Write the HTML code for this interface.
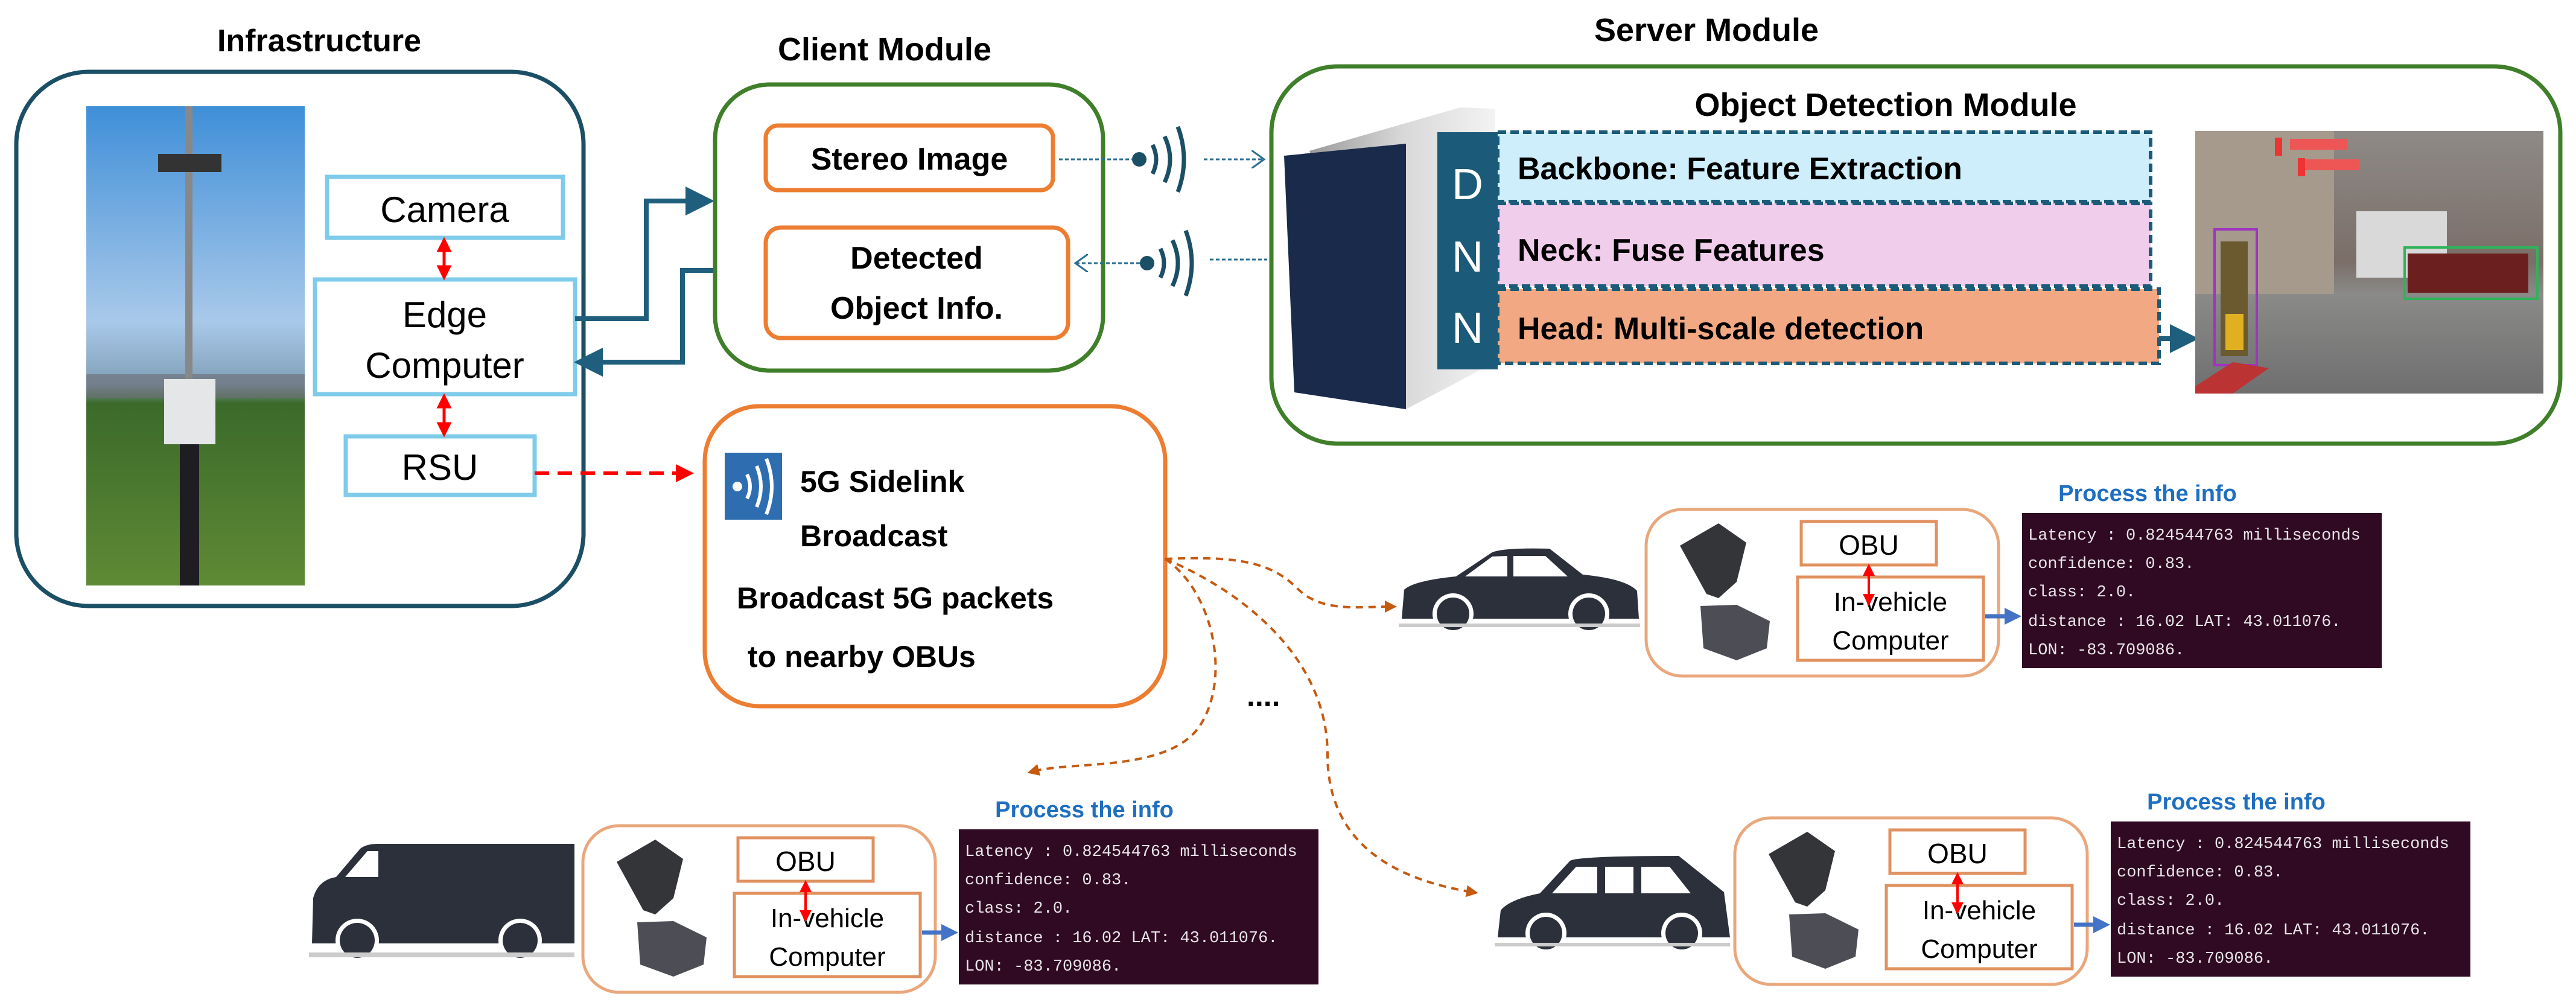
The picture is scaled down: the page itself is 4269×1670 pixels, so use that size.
<!DOCTYPE html>
<html><head><meta charset="utf-8"><style>
html,body{margin:0;padding:0;background:#fff;}
svg{display:block;}
text{font-family:"Liberation Sans",sans-serif;}
.b{font-weight:bold;}
.mono{font-family:"Liberation Mono",monospace;fill:#e8e4e8;font-size:27px;}
</style></head><body>
<svg width="4269" height="1670" viewBox="0 0 4269 1670" xmlns="http://www.w3.org/2000/svg">
<defs>
<marker id="teal" markerWidth="6" markerHeight="6" refX="3" refY="3" orient="auto" markerUnits="strokeWidth"><path d="M0,0 L6,3 L0,6 Z" fill="#1f5f7d"/></marker>
<marker id="red" markerWidth="5" markerHeight="5" refX="2.5" refY="2.5" orient="auto" markerUnits="strokeWidth"><path d="M0,0 L5,2.5 L0,5 Z" fill="#f00"/></marker>
<marker id="redb" markerWidth="5" markerHeight="5" refX="2.5" refY="2.5" orient="auto-start-reverse" markerUnits="strokeWidth"><path d="M0,0 L5,2.5 L0,5 Z" fill="#f00"/></marker>
<marker id="open" markerWidth="8" markerHeight="10" refX="7" refY="5" orient="auto" markerUnits="strokeWidth"><path d="M0,0 L7,5 L0,10" fill="none" stroke="#2a6e90" stroke-width="1"/></marker>
<marker id="org" markerWidth="5" markerHeight="5" refX="2.5" refY="2.5" orient="auto" markerUnits="strokeWidth"><path d="M0,0 L5,2.5 L0,5 Z" fill="#c55a11"/></marker>
<marker id="blu" markerWidth="4" markerHeight="4" refX="2" refY="2" orient="auto" markerUnits="strokeWidth"><path d="M0,0 L4,2 L0,4 Z" fill="#4472c4"/></marker>
<linearGradient id="sky" x1="0" y1="0" x2="0" y2="1"><stop offset="0" stop-color="#3f8fd8"/><stop offset="0.45" stop-color="#a9c9ea"/><stop offset="0.58" stop-color="#7f9fb8"/><stop offset="0.62" stop-color="#3b6a2a"/><stop offset="1" stop-color="#5f8a35"/></linearGradient>
<linearGradient id="silver" x1="0" y1="0" x2="1" y2="0"><stop offset="0" stop-color="#9a9a9a"/><stop offset="0.5" stop-color="#d8d8d8"/><stop offset="1" stop-color="#f3f3f3"/></linearGradient>
<linearGradient id="street" x1="0" y1="0" x2="0" y2="1"><stop offset="0" stop-color="#8e8a86"/><stop offset="0.5" stop-color="#7b6e68"/><stop offset="0.62" stop-color="#8a8a88"/><stop offset="1" stop-color="#6f6f70"/></linearGradient>
<g id="grp">
  <rect x="0" y="0" width="584" height="276" rx="60" fill="#fff" stroke="#e9a77c" stroke-width="5"/>
  <polygon points="56,60 120,23 166,55 150,120 120,147 100,140" fill="#333539"/>
  <polygon points="90,160 150,158 205,185 200,230 150,250 95,230" fill="#4d4d55"/>
  <rect x="257" y="20" width="224" height="72" fill="#fff" stroke="#e0915f" stroke-width="5"/>
  <text x="369" y="75" font-size="46" text-anchor="middle">OBU</text>
  <rect x="251" y="112" width="308" height="138" fill="#fff" stroke="#e0915f" stroke-width="5"/>
  <text x="405" y="168" font-size="44" text-anchor="middle">In-vehicle</text>
  <text x="405" y="232" font-size="44" text-anchor="middle">Computer</text>
  <line x1="369" y1="100" x2="369" y2="150" stroke="#f00" stroke-width="4" marker-start="url(#redb)" marker-end="url(#redb)"/>
  <line x1="562" y1="177" x2="608" y2="177" stroke="#4472c4" stroke-width="7" marker-end="url(#blu)"/>
  <text x="831" y="-14" font-size="38" class="b" fill="#1f6fc0" text-anchor="middle">Process the info</text>
  <rect x="623" y="6" width="596" height="257" fill="#2f0a22"/>
  <text class="mono" x="633" y="50">Latency : 0.824544763 milliseconds</text>
  <text class="mono" x="633" y="97">confidence: 0.83.</text>
  <text class="mono" x="633" y="144">class: 2.0.</text>
  <text class="mono" x="633" y="193">distance : 16.02 LAT: 43.011076.</text>
  <text class="mono" x="633" y="240">LON: -83.709086.</text>
</g>
</defs>

<!-- Infrastructure -->
<text x="529" y="85" font-size="52" class="b" text-anchor="middle">Infrastructure</text>
<rect x="27" y="119" width="940" height="885" rx="120" fill="#fff" stroke="#1b4f66" stroke-width="7"/>
<rect x="143" y="176" width="362" height="794" fill="url(#sky)"/>
<rect x="143" y="620" width="362" height="40" fill="#6d6a70" opacity="0.6"/>
<rect x="307" y="176" width="12" height="520" fill="#888"/>
<rect x="298" y="690" width="32" height="280" fill="#1e1e22"/>
<rect x="262" y="255" width="105" height="30" fill="#333"/>
<rect x="272" y="628" width="85" height="108" fill="#e4e6e8"/>
<rect x="542" y="293" width="391" height="101" fill="#fff" stroke="#7ecbea" stroke-width="7"/>
<text x="737" y="368" font-size="60" text-anchor="middle">Camera</text>
<rect x="522" y="463" width="431" height="190" fill="#fff" stroke="#7ecbea" stroke-width="7"/>
<text x="737" y="542" font-size="60" text-anchor="middle">Edge</text>
<text x="737" y="626" font-size="60" text-anchor="middle">Computer</text>
<rect x="573" y="723" width="313" height="97" fill="#fff" stroke="#7ecbea" stroke-width="7"/>
<text x="729" y="795" font-size="60" text-anchor="middle">RSU</text>
<line x1="736" y1="405" x2="736" y2="452" stroke="#f00" stroke-width="5" marker-start="url(#redb)" marker-end="url(#redb)"/>
<line x1="736" y1="664" x2="736" y2="712" stroke="#f00" stroke-width="5" marker-start="url(#redb)" marker-end="url(#redb)"/>

<!-- teal connectors -->
<path d="M953 528 H1071 V333 H1160" fill="none" stroke="#1f5f7d" stroke-width="8" marker-end="url(#teal)"/>
<path d="M1185 448 H1131 V600 H975" fill="none" stroke="#1f5f7d" stroke-width="8" marker-end="url(#teal)"/>

<!-- Client -->
<text x="1466" y="100" font-size="54" class="b" text-anchor="middle">Client Module</text>
<rect x="1185" y="140" width="643" height="474" rx="90" fill="#fff" stroke="#3f7f2a" stroke-width="7"/>
<rect x="1269" y="208" width="476" height="107" rx="20" fill="#fff" stroke="#ed7d31" stroke-width="7"/>
<text x="1507" y="281" font-size="52" class="b" text-anchor="middle">Stereo Image</text>
<rect x="1269" y="377" width="501" height="183" rx="25" fill="#fff" stroke="#ed7d31" stroke-width="7"/>
<text x="1519" y="445" font-size="52" class="b" text-anchor="middle">Detected</text>
<text x="1519" y="528" font-size="52" class="b" text-anchor="middle">Object Info.</text>

<!-- wireless -->
<line x1="1755" y1="264" x2="1876" y2="264" stroke="#2a6e90" stroke-width="3" stroke-dasharray="6 4"/>
<circle cx="1888" cy="264" r="12" fill="#1b4f66"/>
<path d="M1910 240 Q1922 264 1910 288 M1930 226 Q1948 264 1930 302 M1952 210 Q1972 264 1952 318" fill="none" stroke="#1b4f66" stroke-width="7"/>
<line x1="1995" y1="264" x2="2095" y2="264" stroke="#2a6e90" stroke-width="3" stroke-dasharray="6 4" marker-end="url(#open)"/>
<line x1="1889" y1="436" x2="1782" y2="436" stroke="#2a6e90" stroke-width="3" stroke-dasharray="6 4" marker-end="url(#open)"/>
<circle cx="1901" cy="436" r="12" fill="#1b4f66"/>
<path d="M1923 412 Q1935 436 1923 460 M1943 398 Q1961 436 1943 474 M1965 382 Q1985 436 1965 490" fill="none" stroke="#1b4f66" stroke-width="7"/>
<line x1="2005" y1="430" x2="2100" y2="430" stroke="#2a6e90" stroke-width="3" stroke-dasharray="6 4"/>

<!-- red dashed -->
<line x1="886" y1="784" x2="1135" y2="784" stroke="#f00" stroke-width="6" stroke-dasharray="24 14" marker-end="url(#red)"/>

<!-- 5G box -->
<rect x="1168" y="673" width="763" height="497" rx="90" fill="#fff" stroke="#ed7d31" stroke-width="7"/>
<rect x="1201" y="750" width="95" height="111" fill="#2e6eb0"/>
<circle cx="1222" cy="806" r="8" fill="#fff"/>
<path d="M1238 786 Q1248 806 1238 826 M1254 772 Q1268 806 1254 840 M1270 760 Q1288 806 1270 852" fill="none" stroke="#fff" stroke-width="6"/>
<text x="1326" y="815" font-size="50" class="b">5G Sidelink</text>
<text x="1326" y="905" font-size="50" class="b">Broadcast</text>
<text x="1221" y="1008" font-size="50" class="b">Broadcast 5G packets</text>
<text x="1239" y="1105" font-size="50" class="b">to nearby OBUs</text>

<!-- Server -->
<text x="2828" y="68" font-size="54" class="b" text-anchor="middle">Server Module</text>
<rect x="2107" y="110" width="2136" height="625" rx="110" fill="#fff" stroke="#3f7f2a" stroke-width="7"/>
<text x="3125" y="192" font-size="54" class="b" text-anchor="middle">Object Detection Module</text>
<polygon points="2170,250 2420,178 2478,180 2478,600 2330,678" fill="url(#silver)"/>
<polygon points="2128,258 2330,238 2330,678 2145,650" fill="#1a2a4a"/>
<rect x="2382" y="219" width="100" height="393" fill="#1b5a78"/>
<text x="2432" y="330" font-size="72" fill="#fff" text-anchor="middle">D</text>
<text x="2432" y="450" font-size="72" fill="#fff" text-anchor="middle">N</text>
<text x="2432" y="568" font-size="72" fill="#fff" text-anchor="middle">N</text>
<rect x="2482" y="219" width="1082" height="115" fill="#cdeefa" stroke="#1b5a78" stroke-width="6" stroke-dasharray="14 7"/>
<text x="2515" y="297" font-size="52" class="b">Backbone: Feature Extraction</text>
<rect x="2482" y="337" width="1082" height="137" fill="#f1cdec" stroke="#1b5a78" stroke-width="6" stroke-dasharray="14 7"/>
<text x="2515" y="432" font-size="52" class="b">Neck: Fuse  Features</text>
<rect x="2482" y="479" width="1096" height="123" fill="#f2a983" stroke="#1b5a78" stroke-width="6" stroke-dasharray="14 7"/>
<text x="2515" y="562" font-size="52" class="b">Head: Multi-scale detection</text>
<line x1="3578" y1="561" x2="3620" y2="561" stroke="#1f5f7d" stroke-width="8" marker-end="url(#teal)"/>
<rect x="3638" y="217" width="577" height="435" fill="url(#street)"/>
<rect x="3638" y="217" width="230" height="270" fill="#a59a8c"/>
<rect x="3905" y="350" width="150" height="110" fill="#d9d9d9"/>
<rect x="3990" y="420" width="200" height="65" fill="#6b1f1f"/>
<rect x="3985" y="410" width="220" height="85" fill="none" stroke="#2fb35a" stroke-width="4"/>
<rect x="3670" y="380" width="70" height="225" fill="none" stroke="#a033c0" stroke-width="4"/>
<rect x="3680" y="400" width="45" height="190" fill="#6b5a30"/>
<rect x="3688" y="520" width="30" height="60" fill="#e0b020"/>
<rect x="3770" y="228" width="12" height="30" fill="#e33"/>
<rect x="3795" y="230" width="95" height="18" fill="#e55"/>
<rect x="3808" y="262" width="12" height="30" fill="#e33"/>
<rect x="3820" y="264" width="90" height="18" fill="#e55"/>
<polygon points="3638,640 3700,600 3760,610 3700,652 3638,652" fill="#b33"/>

<!-- orange dashed curves -->
<path d="M1931 926 C2060 920 2110 935 2150 975 S2250 1005 2305 1005" fill="none" stroke="#c55a11" stroke-width="4" stroke-dasharray="12 9" marker-end="url(#org)"/>
<path d="M1931 926 C2010 980 2040 1120 1990 1200 S1780 1260 1712 1278" fill="none" stroke="#c55a11" stroke-width="4" stroke-dasharray="12 9" marker-end="url(#org)"/>
<path d="M1931 926 C2060 980 2200 1090 2200 1250 S2330 1460 2440 1478" fill="none" stroke="#c55a11" stroke-width="4" stroke-dasharray="12 9" marker-end="url(#org)"/>
<text x="2066" y="1170" font-size="50" class="b">....</text>

<!-- vehicle groups -->
<use href="#grp" x="2728" y="844"/>
<use href="#grp" x="2875" y="1355"/>
<use href="#grp" x="966" y="1368"/>

<!-- sedan top -->
<g transform="translate(2323,907)" fill="#2b303a">
  <path d="M0,118 L4,70 Q20,55 90,48 L150,8 Q170,0 245,2 L300,45 Q372,52 390,72 L393,118 Z"/>
  <polygon points="105,48 150,15 175,14 175,48" fill="#fff"/>
  <polygon points="185,14 238,14 275,48 185,48" fill="#fff"/>
  <circle cx="85" cy="110" r="34" fill="#fff"/><circle cx="85" cy="110" r="27"/>
  <circle cx="310" cy="110" r="34" fill="#fff"/><circle cx="310" cy="110" r="27"/>
  <rect x="-5" y="126" width="400" height="6" fill="#ccc"/>
</g>
<!-- MPV bottom right -->
<g transform="translate(2482,1418)" fill="#2b303a">
  <path d="M0,135 L5,90 Q20,72 70,62 L120,8 Q135,0 300,0 L375,60 L385,135 Z"/>
  <polygon points="90,62 130,18 165,18 165,62" fill="#fff"/>
  <polygon points="178,18 225,18 225,62 178,62" fill="#fff"/>
  <polygon points="238,18 285,18 320,62 238,62" fill="#fff"/>
  <circle cx="80" cy="128" r="34" fill="#fff"/><circle cx="80" cy="128" r="27"/>
  <circle cx="305" cy="128" r="34" fill="#fff"/><circle cx="305" cy="128" r="27"/>
  <rect x="-5" y="144" width="390" height="6" fill="#ccc"/>
</g>
<!-- van bottom left -->
<g transform="translate(517,1398)" fill="#2b303a">
  <path d="M0,165 L2,90 Q10,60 40,55 L80,8 Q90,0 110,0 L435,0 L435,165 Z"/>
  <polygon points="55,55 92,12 110,12 110,55" fill="#fff"/>
  <circle cx="75" cy="160" r="36" fill="#fff"/><circle cx="75" cy="160" r="29"/>
  <circle cx="345" cy="160" r="36" fill="#fff"/><circle cx="345" cy="160" r="29"/>
  <rect x="-5" y="180" width="440" height="8" fill="#ccc"/>
</g>
</svg>
</body></html>
